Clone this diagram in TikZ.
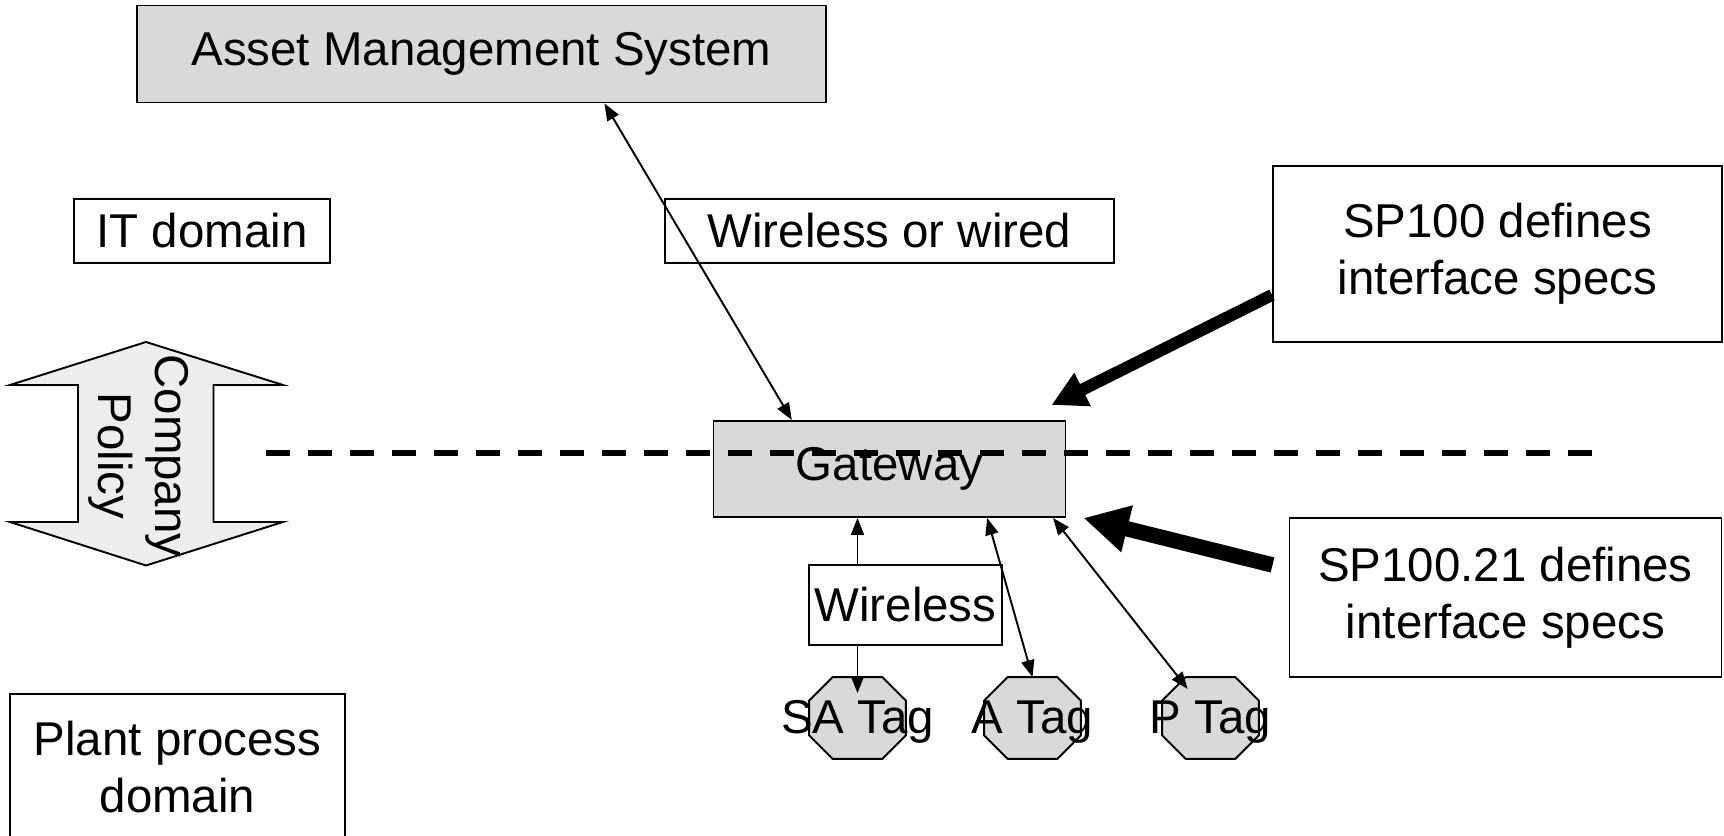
\documentclass[tikz,border=0pt]{standalone}
\usepackage{fontspec}
\setmainfont{Liberation Sans}
\usetikzlibrary{calc,arrows.meta}
\definecolor{boxgray}{gray}{0.85}
\definecolor{policygray}{gray}{0.93}

\begin{document}
\begin{tikzpicture}[
  font=\fontsize{27pt}{32.4pt}\selectfont,
  >={Triangle[length=0.34cm,width=0.26cm]},
  box/.style={draw, line width=1.1pt, fill=white, inner sep=0pt, align=center},
  graybox/.style={box, fill=boxgray},
  tagspot/.style={minimum width=1.92cm, minimum height=1.62cm, inner sep=0pt},
  link/.style={<->, line width=1.1pt},
  specarrow/.style={line width=#1, -{Triangle[length=2.9*#1,width=2.9*#1]}}
]
  \useasboundingbox (0,0) rectangle (34.48,16.72);
  \clip (0,0) rectangle (34.48,16.72);
  \def\ch{0.47cm}

  % company policy double arrow
  \draw[line width=1.1pt, fill=policygray] (2.92,9.88) -- (5.66,9.02) -- (4.27,9.02) -- (4.27,6.28)
    -- (5.66,6.28) -- (2.92,5.41) -- (0.2,6.28) -- (1.56,6.28) -- (1.56,9.02) -- (0.2,9.02) -- cycle;
  \node[rotate=-90, align=center, inner sep=0pt] (policy) at (2.77,7.6) {Company\\Policy};

  \node[graybox, minimum width=13.77cm, minimum height=1.94cm] (ams) at (9.63,15.64) {Asset Management System};
  \node[box, minimum width=5.12cm, minimum height=1.28cm] (itdom) at (4.04,12.10) {IT domain};
  \node[box, minimum width=8.97cm, minimum height=1.28cm] (wow) at (17.79,12.10) {Wireless or wired};
  \node[box, minimum width=8.98cm, minimum height=3.52cm] (sp100) at (29.95,11.64) {SP100 defines\\interface specs};
  \node[graybox, minimum width=7.04cm, minimum height=1.92cm] (gw) at (17.79,7.34) {Gateway};
  \node[box, minimum width=8.64cm, minimum height=3.19cm] (sp21) at (30.11,4.77) {SP100.21 defines\\interface specs};
  \node[box, minimum width=6.7cm, minimum height=2.92cm] (plant) at (3.55,1.38) {Plant process\\domain};

  % octagonal tags
  \foreach \t/\x/\txt in {sa/17.15/SA Tag, atag/20.65/A Tag, ptag/24.21/P Tag}{
    \node[tagspot] (\t) at (\x,2.36) {};
    \draw[line width=1.1pt, fill=boxgray] ([xshift=\ch]\t.north west) -- ([xshift=-\ch]\t.north east)
      -- ([yshift=-\ch]\t.north east) -- ([yshift=\ch]\t.south east) -- ([xshift=-\ch]\t.south east)
      -- ([xshift=\ch]\t.south west) -- ([yshift=\ch]\t.south west) -- ([yshift=-\ch]\t.north west) -- cycle;
    \node[yshift=-0.08cm] (\t-name) at (\t) {\txt};
  }

  \coordinate (divL) at (5.32,7.66);
  \coordinate (divR) at (31.84,7.66);
  \draw[line width=0.12cm, dash pattern=on 0.48cm off 0.36cm] (divL) -- (divR); % domain border

  \draw[link] ($(ams.south west)!.678!(ams.south east)$) -- ($(gw.north west)!.224!(gw.north east)$);
  \draw[link, shorten >=-0.32cm] (gw.south -| sa) -- (sa);
  \node[box, minimum width=3.85cm, minimum height=1.61cm] (wl) at (18.11,4.62) {Wireless};
  \draw[link] ($(gw.south west)!.776!(gw.south east)$) -- (atag.north);
  \draw[link, shorten >=-0.3cm] ($(gw.south west)!.962!(gw.south east)$) -- (ptag);

  \coordinate (tipA) at ([shift={(-0.30,0.30)}]gw.north east);
  \coordinate (tipB) at ([xshift=0.34cm]gw.south east);
  \draw[specarrow=0.24cm] ([yshift=-0.82cm]sp100.west) -- (tipA);
  \draw[specarrow=0.31cm] ([shift={(-0.32,0.65)}]sp21.west) -- (tipB);
\end{tikzpicture}
\end{document}
